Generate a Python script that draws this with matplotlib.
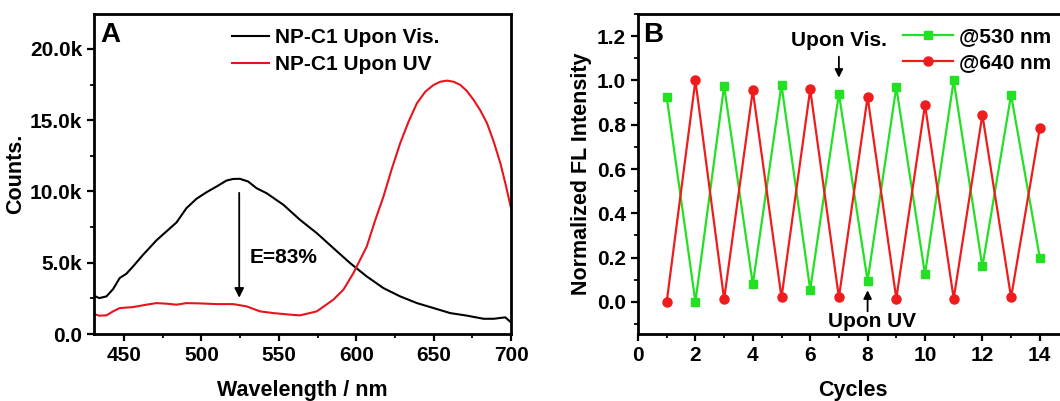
import matplotlib

matplotlib.use("Agg")

import matplotlib.pyplot as plt
from matplotlib.ticker import MultipleLocator, FuncFormatter

plt.rcParams["font.family"] = ["Liberation Sans", "DejaVu Sans"]
plt.rcParams["font.weight"] = "bold"

# panel A: emission spectra
vis_nm = [430.6, 434, 438.6, 442.9, 447.2, 451.5, 455.8, 462.3, 470.9, 477.4,
          483.9, 490.3, 496.8, 503.3, 509.8, 516.2, 520.5, 524.8, 530.2, 535.6,
          542.1, 552.9, 563.7, 574.5, 585.2, 596, 606.8, 617.6, 628.4, 639.2,
          650, 660.7, 671.5, 682.3, 688.8, 696.3, 700]
vis_counts = [2.69, 2.52, 2.64, 3.15, 3.93, 4.23, 4.74, 5.56, 6.57, 7.2,
              7.83, 8.83, 9.49, 9.95, 10.35, 10.77, 10.88, 10.89, 10.7, 10.23,
              9.88, 9.07, 8.01, 7.08, 6.03, 4.98, 4.04, 3.22, 2.64, 2.17,
              1.82, 1.47, 1.29, 1.07, 1.07, 1.17, 0.82]

uv_nm = [430.6, 434, 438.6, 442.9, 447.2, 455.8, 464.5, 470.9, 477.4, 483.9,
         490.3, 498.9, 509.8, 520.5, 529.2, 537.8, 546.4, 557.2, 563.7, 574.5,
         585.2, 591.7, 598.2, 606.8, 612, 617.6, 623, 628.4, 633.8, 639.2,
         644.6, 650, 654.3, 658.6, 662.9, 667.2, 671.5, 675.8, 680.1, 684.5,
         688.8, 693.1, 696.5, 700]
uv_counts = [1.4, 1.29, 1.31, 1.59, 1.82, 1.89, 2.06, 2.17, 2.13, 2.06,
             2.17, 2.15, 2.1, 2.1, 1.94, 1.59, 1.47, 1.36, 1.31, 1.59,
             2.41, 3.11, 4.28, 6.14, 7.9, 9.65, 11.6, 13.39, 14.9, 16.19,
             17.0, 17.48, 17.7, 17.78, 17.7, 17.48, 17.05, 16.43, 15.7, 14.79,
             13.5, 11.99, 10.5, 8.83]

# panel B: switching cycles
cycles = list(range(1, 15))
fl_530 = [0.925, 0.0, 0.975, 0.08, 0.98, 0.055, 0.94, 0.095, 0.97, 0.125,
          1.0, 0.16, 0.935, 0.2]
fl_640 = [0.0, 1.0, 0.012, 0.955, 0.02, 0.96, 0.02, 0.925, 0.015, 0.89,
          0.015, 0.845, 0.02, 0.785]

FS = 15


def style_axes(ax):
    for spine in ax.spines.values():
        spine.set_linewidth(2.0)
    ax.tick_params(which="major", direction="out", length=5, width=1.6,
                   labelsize=FS, top=False, right=False)
    ax.tick_params(which="minor", direction="out", length=3, width=1.3,
                   top=False, right=False)
    for lab in ax.get_xticklabels() + ax.get_yticklabels():
        lab.set_fontweight("bold")


fig = plt.figure(figsize=(10.6, 4.01), dpi=100)

# ---- panel A
ax_a = fig.add_axes([0.0887, 0.167, 0.3934, 0.798])
ax_a.plot(vis_nm, vis_counts, color="black", linewidth=1.5,
          label="NP-C1 Upon Vis.")
ax_a.plot(uv_nm, uv_counts, color="#e8141c", linewidth=1.5,
          label="NP-C1 Upon UV")
ax_a.set_xlim(430.6, 700)
ax_a.set_ylim(0, 22.45)
ax_a.xaxis.set_major_locator(MultipleLocator(50))
ax_a.xaxis.set_minor_locator(MultipleLocator(25))
ax_a.yaxis.set_major_locator(MultipleLocator(5))
ax_a.yaxis.set_minor_locator(MultipleLocator(2.5))
ax_a.yaxis.set_major_formatter(
    FuncFormatter(lambda v, p: "0.0" if v == 0 else f"{v:.1f}k"))
ax_a.set_xlabel("Wavelength / nm", fontsize=FS + 0.5, fontweight="bold",
                labelpad=11)
ax_a.set_ylabel("Counts.", fontsize=FS + 0.5, fontweight="bold", labelpad=3)
style_axes(ax_a)
ax_a.text(0.015, 0.975, "A", transform=ax_a.transAxes, fontsize=20,
          fontweight="bold", va="top", ha="left")
ax_a.annotate("", xy=(524.4, 2.35), xytext=(524.4, 10.1),
              arrowprops=dict(arrowstyle="-|>", color="black", lw=1.3,
                              mutation_scale=14))
ax_a.text(531, 5.35, "E=83%", fontsize=FS, fontweight="bold",
          va="center", ha="left")
ax_a.legend(loc="upper left", bbox_to_anchor=(0.33, 0.955), frameon=False,
            fontsize=FS, handlelength=1.8, handletextpad=0.3,
            labelspacing=0.36, borderpad=0, borderaxespad=0)

# ---- panel B
ax_b = fig.add_axes([0.6019, 0.167, 0.4061, 0.798])
ax_b.plot(cycles, fl_530, color="#22e022", marker="s", markersize=5.5,
          linewidth=1.6, label="@530 nm")
ax_b.plot(cycles, fl_640, color="#ee1c1c", marker="o", markersize=6.5,
          linewidth=1.6, label="@640 nm")
ax_b.set_xlim(0, 15)
ax_b.set_ylim(-0.145, 1.3)
ax_b.xaxis.set_major_locator(MultipleLocator(2))
ax_b.xaxis.set_minor_locator(MultipleLocator(1))
ax_b.yaxis.set_major_locator(MultipleLocator(0.2))
ax_b.yaxis.set_minor_locator(MultipleLocator(0.1))
ax_b.yaxis.set_major_formatter(FuncFormatter(lambda v, p: f"{v:.1f}"))
ax_b.set_xlabel("Cycles", fontsize=FS + 0.5, fontweight="bold", labelpad=11)
ax_b.set_ylabel("Normalized FL Intensity", fontsize=FS + 0.5,
                fontweight="bold", labelpad=4)
style_axes(ax_b)
ax_b.text(0.012, 0.975, "B", transform=ax_b.transAxes, fontsize=20,
          fontweight="bold", va="top", ha="left")
ax_b.annotate("", xy=(7, 1.0), xytext=(7, 1.12),
              arrowprops=dict(arrowstyle="-|>", color="black", lw=1.3,
                              mutation_scale=12))
ax_b.text(7.0, 1.18, "Upon Vis.", fontsize=FS, fontweight="bold",
          ha="center", va="center")
ax_b.annotate("", xy=(8, 0.065), xytext=(8, -0.055),
              arrowprops=dict(arrowstyle="-|>", color="black", lw=1.3,
                              mutation_scale=12))
ax_b.text(8.15, -0.09, "Upon UV", fontsize=FS, fontweight="bold",
          ha="center", va="center")
ax_b.legend(loc="upper left", bbox_to_anchor=(0.615, 0.96), frameon=False,
            fontsize=FS, handlelength=2.4, handletextpad=0.3,
            labelspacing=0.36, borderpad=0, borderaxespad=0)

fig.savefig("out.png", dpi=100)
plt.close(fig)
